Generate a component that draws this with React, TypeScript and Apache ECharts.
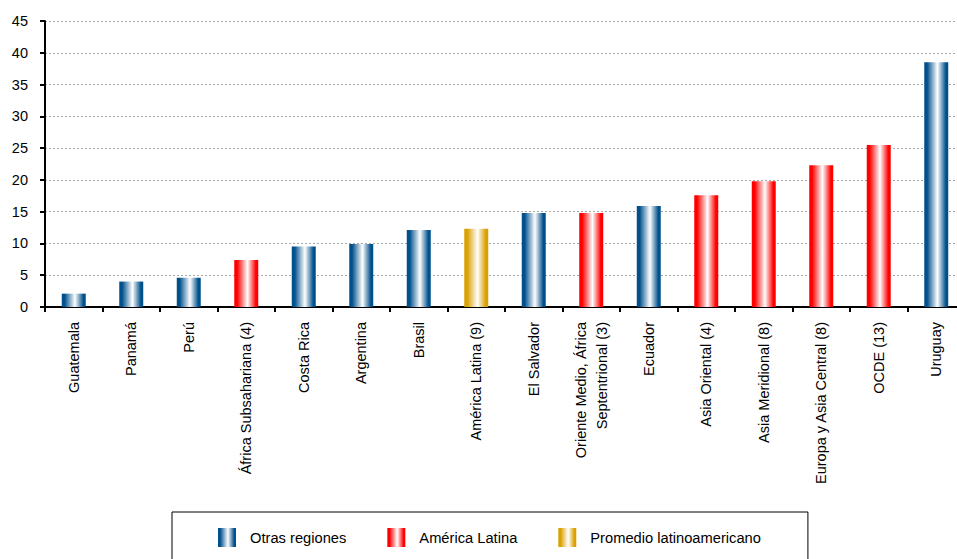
import React, { useEffect, useRef } from "react";
import * as echarts from "echarts";

const categories = [
  "Guatemala",
  "Panamá",
  "Perú",
  "África Subsahariana (4)",
  "Costa Rica",
  "Argentina",
  "Brasil",
  "América Latina (9)",
  "El Salvador",
  "Oriente Medio, África\nSeptentrional (3)",
  "Ecuador",
  "Asia Oriental (4)",
  "Asia Meridional (8)",
  "Europa y Asia Central (8)",
  "OCDE (13)",
  "Uruguay",
];

const values = [2.1, 4.0, 4.6, 7.4, 9.5, 9.9, 12.1, 12.3, 14.8, 14.8, 15.9, 17.6, 19.8, 22.3, 25.5, 38.5];

// group of each bar, named after the legend entry whose colour it uses
const groups = [
  "Otras regiones",
  "Otras regiones",
  "Otras regiones",
  "América Latina",
  "Otras regiones",
  "Otras regiones",
  "Otras regiones",
  "Promedio latinoamericano",
  "Otras regiones",
  "América Latina",
  "Otras regiones",
  "América Latina",
  "América Latina",
  "América Latina",
  "América Latina",
  "Otras regiones",
];

const seriesNames = ["Otras regiones", "América Latina", "Promedio latinoamericano"];
const seriesColors = ["#00508c", "#ff0000", "#d9a000"];

const yTicks = { min: 0, max: 45, interval: 5 };

const FONT = "Arial, 'Liberation Sans', sans-serif";

function grad(c: string) {
  return new echarts.graphic.LinearGradient(0, 0, 1, 0, [
    { offset: 0, color: c },
    { offset: 0.12, color: c },
    { offset: 0.55, color: "#ffffff" },
    { offset: 0.9, color: c },
    { offset: 1, color: c },
  ]);
}

export default function App() {
  const ref = useRef<HTMLDivElement>(null);
  useEffect(() => {
    if (!ref.current) return;
    const chart = echarts.init(ref.current, undefined, { renderer: "svg" });
    const series = seriesNames.map((name, si) => ({
      name,
      type: "bar" as const,
      barWidth: 24,
      barGap: "-100%",
      itemStyle: { color: grad(seriesColors[si]) },
      data: values.map((v, i) => (groups[i] === name ? v : "-")),
    }));
    chart.setOption({
      animation: false,
      backgroundColor: "#ffffff",
      textStyle: { fontFamily: FONT },
      grid: {
        left: 45,
        width: 920,
        top: 21,
        bottom: 252,
        containLabel: false,
        outerBoundsMode: "none",
      },
      legend: {
        left: 172,
        top: 512,
        orient: "horizontal",
        padding: [16, 47, 16, 46],
        itemGap: 41,
        itemWidth: 18,
        itemHeight: 19,
        icon: "rect",
        borderColor: "#000000",
        borderWidth: 1,
        textStyle: { fontSize: 14.7, color: "#000000", fontFamily: FONT, padding: [0, 0, 0, 9] },
        data: seriesNames,
      },
      xAxis: {
        type: "category",
        data: categories,
        boundaryGap: true,
        axisLine: { lineStyle: { color: "#000000", width: 2 } },
        axisTick: { show: true, length: 5, lineStyle: { color: "#000000", width: 2 } },
        axisLabel: {
          rotate: 90,
          interval: 0,
          margin: 15,
          fontSize: 14.5,
          color: "#000000",
          fontFamily: FONT,
          lineHeight: 21,
        },
        splitLine: { show: false },
      },
      yAxis: {
        type: "value",
        min: yTicks.min,
        max: yTicks.max,
        interval: yTicks.interval,
        axisLine: { show: true, lineStyle: { color: "#000000", width: 2 } },
        axisTick: { show: true, length: 5, lineStyle: { color: "#000000", width: 2 } },
        axisLabel: { margin: 17, fontSize: 14.5, color: "#000000", fontFamily: FONT },
        splitLine: { show: true, lineStyle: { color: "#a6a6a6", type: [2, 2], width: 1 } },
      },
      series,
    });
    return () => chart.dispose();
  }, []);
  return (
    <div
      ref={ref}
      style={{ position: "fixed", left: 0, top: 0, width: 957, height: 559, background: "#fff" }}
    />
  );
}
